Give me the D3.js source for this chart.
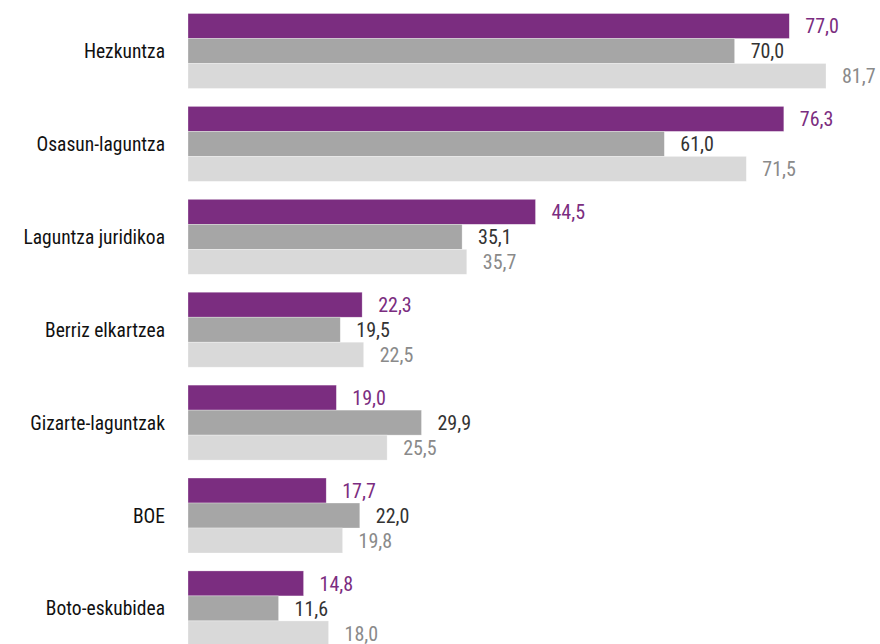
<!DOCTYPE html>
<html><head><meta charset="utf-8">
<script src="https://cdn.jsdelivr.net/npm/d3@7"></script>
<style>body{margin:0;background:#fff}svg{display:block}text{font-family:"Liberation Sans Narrow","Roboto Condensed","Arial Narrow",sans-serif}</style>
</head><body>
<svg id="c" width="880" height="644"></svg>
<script>
const categories = ["Hezkuntza","Osasun-laguntza","Laguntza juridikoa","Berriz elkartzea","Gizarte-laguntzak","BOE","Boto-eskubidea"];
const series1 = [77.0,76.3,44.5,22.3,19.0,17.7,14.8];
const series2 = [70.0,61.0,35.1,19.5,29.9,22.0,11.6];
const series3 = [81.7,71.5,35.7,22.5,25.5,19.8,18.0];
const seriesNames = ["s1","s2","s3"];
const barColors = ["#7b2d80","#a6a6a6","#d9d9d9"];
const labelColors = ["#7b2d80","#333333","#8a8a8a"];
const allSeries = [series1,series2,series3];

const svg = d3.select("#c");
const x = d3.scaleLinear().domain([0,81.7]).range([188,826]);
const y = d3.scaleBand().domain(categories).range([13.5,645.9]).paddingInner(0.193).paddingOuter(0);
const ys = d3.scaleBand().domain(seriesNames).range([0,y.bandwidth()]);
const fmt = v => d3.format(".1f")(v).replace(".",",");

const g = svg.selectAll("g.grp").data(categories).join("g").attr("class","grp")
  .attr("transform", d => `translate(0,${y(d)})`);

g.append("text").attr("x",165).attr("y", ys("s2")+ys.bandwidth()/2).attr("dy","0.36em")
  .attr("text-anchor","end").attr("font-size",19.5).attr("font-weight",400).attr("fill","#111").text(d=>d);

seriesNames.forEach((s,si)=>{
  g.append("rect").attr("x",x(0)).attr("y",ys(s)).attr("height",ys.bandwidth())
    .attr("width",(d,i)=>x(allSeries[si][i])-x(0)).attr("fill",barColors[si])
    .attr("stroke","#fff").attr("stroke-opacity",0.5).attr("stroke-width",0.6);
  g.append("text").attr("x",(d,i)=>x(allSeries[si][i])+16).attr("y",ys(s)+ys.bandwidth()/2).attr("dy","0.36em")
    .attr("font-size",20).attr("font-weight",400).attr("fill",labelColors[si]).text((d,i)=>fmt(allSeries[si][i]));
});
</script>
</body></html>
